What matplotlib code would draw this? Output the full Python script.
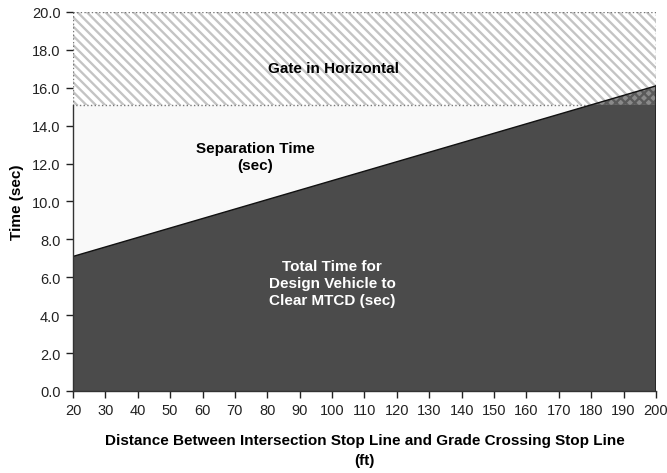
import matplotlib
matplotlib.use("Agg")
import matplotlib.pyplot as plt
import numpy as np

# odd dpi so the hatch comes out as dense as in the original
DPI = 112
S = 100 / DPI   # keep sizes as if drawn at 100 dpi

plt.rcParams.update({
    "font.family": ["Liberation Sans", "DejaVu Sans"],
    "hatch.linewidth": 1.5,
})

DARK, HATCH, PAPER = "#4b4b4b", "#c4c4c4", "#f9f9f9"

# distance (ft) vs total time for design vehicle to clear MTCD (sec)
distance = [20, 30, 40, 50, 60, 70, 80, 90, 100, 110,
            120, 130, 140, 150, 160, 170, 180, 190, 200]
clear_time = [7.1, 7.6, 8.1, 8.6, 9.1, 9.6, 10.1, 10.6, 11.1, 11.6,
              12.1, 12.6, 13.1, 13.6, 14.1, 14.6, 15.1, 15.6, 16.1]
gate_time = 15.1   # gate reaches horizontal
y_top = 20.0

x_ticks = list(range(20, 201, 10))
y_ticks = [0, 2, 4, 6, 8, 10, 12, 14, 16, 18, 20]

x = np.array(distance, dtype=float)
t = np.array(clear_time)

fig = plt.figure(figsize=(667 / DPI, 474 / DPI), dpi=DPI)
ax = fig.add_axes([0.1094, 0.173, 0.8741, 0.7996])
ax.set_facecolor(PAPER)

# gate-in-horizontal band
ax.fill_between(x, gate_time, y_top, facecolor="white", edgecolor=HATCH,
                hatch="\\\\\\\\", linewidth=0, zorder=1)
ax.fill_between(x, gate_time, y_top, facecolor="none", edgecolor="#777777",
                linestyle=":", linewidth=1.0 * S, zorder=1.5)

# total clear time
ax.fill_between(x, 0, t, facecolor=DARK, edgecolor="none", zorder=2)
# overlap where clear time exceeds gate time
over = np.maximum(t, gate_time)
ax.fill_between(x, gate_time, over, facecolor="#8a8a8a", edgecolor="#5a5a5a",
                hatch="xxxx", linewidth=0, zorder=2.5)
ax.plot(x, t, color="#111111", linewidth=1.0 * S, zorder=3)
ax.plot([200, 200], [0, clear_time[-1]], color="#222222", linewidth=1.2 * S, zorder=3)

ax.set_xlim(20, 200)
ax.set_ylim(0, y_top)
ax.set_xticks(x_ticks)
ax.set_yticks(y_ticks)
ax.set_yticklabels([f"{v:.1f}" for v in y_ticks])
ax.tick_params(axis="both", direction="out", length=5 * S, width=1 * S,
               labelsize=10.5 * S, colors="#222222", pad=4 * S)
for side in ("top", "right"):
    ax.spines[side].set_visible(False)
ax.spines["left"].set_bounds(0, gate_time)
for side in ("left", "bottom"):
    ax.spines[side].set_color("#333333")
    ax.spines[side].set_linewidth(1.0 * S)
ax.spines["left"].set_zorder(4)

bold = dict(fontsize=11 * S, fontweight="bold", ha="center", va="center", zorder=5)
ax.text(100.3, 17.05, "Gate in Horizontal", color="black", **bold)
ax.text(76.3, 12.37, "Separation Time\n(sec)", color="black", linespacing=1.3, **bold)
ax.text(100.0, 5.7, "Total Time for\nDesign Vehicle to\nClear MTCD (sec)",
        color="white", linespacing=1.25, **bold)

ax.set_xlabel("Distance Between Intersection Stop Line and Grade Crossing Stop Line\n(ft)",
              fontsize=11 * S, fontweight="bold", labelpad=11 * S, linespacing=1.6)
ax.set_ylabel("Time (sec)", fontsize=11 * S, fontweight="bold", labelpad=6 * S)

plt.savefig("out.png", dpi=DPI, facecolor="white")
plt.close()
